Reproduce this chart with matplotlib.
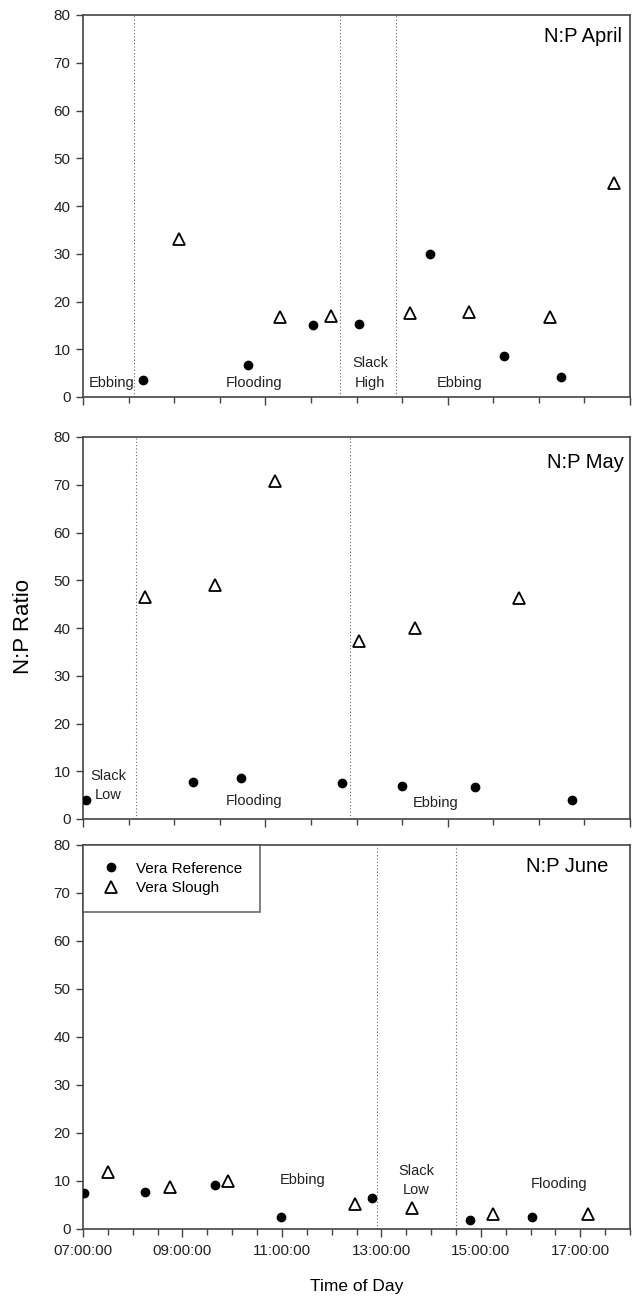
import numpy as np
import matplotlib.pyplot as plt
from matplotlib.ticker import MultipleLocator, FixedLocator, NullFormatter

plt.rcParams['font.family'] = ['Liberation Sans', 'DejaVu Sans']

# time of day in decimal hours, N:P ratios
apr_ref_t = [8.20, 10.31, 11.62, 12.56, 13.98, 15.47, 16.61]
apr_ref_np = [3.6, 6.7, 15.1, 15.3, 30.0, 8.5, 4.2]
apr_slough_t = [8.94, 10.97, 11.98, 13.57, 14.77, 16.39, 17.67]
apr_slough_np = [33.0, 16.8, 16.9, 17.6, 17.8, 16.7, 44.9]
apr_tides = [8.02, 12.17, 13.30]
apr_labels = [(7.57, 3.0, 'Ebbing'), (10.43, 3.0, 'Flooding'),
              (12.77, 5.0, 'Slack\nHigh'), (14.57, 3.0, 'Ebbing')]

may_ref_t = [7.07, 9.21, 10.18, 12.21, 13.42, 14.89, 16.84]
may_ref_np = [4.0, 7.7, 8.5, 7.5, 7.0, 6.6, 4.0]
may_slough_t = [8.24, 9.65, 10.86, 12.56, 13.68, 15.77]
may_slough_np = [46.4, 49.0, 70.7, 37.3, 39.9, 46.3]
may_tides = [8.07, 12.37]
may_labels = [(7.51, 7.0, 'Slack\nLow'), (10.43, 3.8, 'Flooding'),
              (14.09, 3.4, 'Ebbing')]

jun_ref_t = [7.03, 8.25, 9.65, 10.98, 12.81, 14.78, 16.02]
jun_ref_np = [7.4, 7.7, 9.2, 2.4, 6.5, 1.9, 2.4]
jun_slough_t = [7.50, 8.74, 9.92, 12.46, 13.62, 15.24, 17.15]
jun_slough_np = [11.8, 8.75, 9.9, 5.3, 4.4, 3.05, 3.1]
jun_tides = [12.92, 14.51]
jun_labels = [(11.42, 10.2, 'Ebbing'), (13.70, 10.1, 'Slack\nLow'),
              (16.58, 9.4, 'Flooding')]

hour_labels = ['07:00:00', '09:00:00', '11:00:00', '13:00:00', '15:00:00', '17:00:00']

W, H = 634, 1299
fig = plt.figure(figsize=(W / 100, H / 100), dpi=100)

def add_panel(top, bottom):
    return fig.add_axes([83 / W, 1 - bottom / H, (630 - 83) / W, (bottom - top) / H])

panels = [
    (add_panel(15, 397), apr_ref_t, apr_ref_np, apr_slough_t, apr_slough_np,
     apr_tides, apr_labels, 'N:P April', 622, 22),
    (add_panel(437, 819), may_ref_t, may_ref_np, may_slough_t, may_slough_np,
     may_tides, may_labels, 'N:P May', 624, 25),
    (add_panel(845, 1229), jun_ref_t, jun_ref_np, jun_slough_t, jun_slough_np,
     jun_tides, jun_labels, 'N:P June', 608, 21),
]

spine_col = '#444444'
for i, (ax, rt, rv, st, sv, tides, labels, title, tx, ty) in enumerate(panels):
    ax.plot(rt, rv, 'o', color='black', markersize=6, label='Vera Reference', zorder=3)
    ax.plot(st, sv, '^', markerfacecolor='white', markeredgecolor='black',
            markeredgewidth=1.3, markersize=8.5, label='Vera Slough', zorder=3)
    for t in tides:
        ax.axvline(t, color='#666666', linestyle=(0, (1, 2)), linewidth=0.8, zorder=1)
    for x, y, s in labels:
        ax.text(x, y, s, ha='center', va='center', fontsize=10.5, color='#222222',
                linespacing=1.5)
    ax.set_xlim(7, 18)
    ax.set_ylim(0, 80)
    ax.yaxis.set_major_locator(MultipleLocator(10))
    ax.tick_params(axis='y', labelsize=11, colors=spine_col, labelcolor='#222222',
                   length=5, width=1, pad=4)
    for sp in ax.spines.values():
        sp.set_color(spine_col)
        sp.set_linewidth(1.2)
    # axes-pixel placement for the month title
    bbox = ax.get_position()
    ax.text((tx / W - bbox.x0) / bbox.width, 1 - ty / (bbox.height * H), title,
            transform=ax.transAxes, ha='right', va='center', fontsize=14.5,
            color='black')
    if i < 2:
        ticks = np.linspace(7, 18, 13)
        ax.xaxis.set_major_locator(FixedLocator(ticks[::4]))
        ax.xaxis.set_minor_locator(FixedLocator(ticks))
        ax.xaxis.set_major_formatter(NullFormatter())
    else:
        ax.xaxis.set_major_locator(FixedLocator([7, 9, 11, 13, 15, 17]))
        ax.xaxis.set_minor_locator(MultipleLocator(0.5))
        ax.set_xticklabels(hour_labels)
    ax.tick_params(axis='x', which='major', length=6, width=1, colors=spine_col,
                   labelcolor='#222222', labelsize=11, pad=5)
    ax.tick_params(axis='x', which='minor', length=4, width=1, colors=spine_col)

leg = panels[2][0].legend(loc='upper left', bbox_to_anchor=(0, 1), borderaxespad=0,
                          fontsize=11, frameon=True, fancybox=False, handletextpad=0.9,
                          borderpad=1.1, labelspacing=0.35, handlelength=1.5)
leg.get_frame().set_edgecolor(spine_col)
leg.get_frame().set_linewidth(1.2)

fig.text(24 / W, 1 - 627 / H, 'N:P Ratio', rotation=90, ha='center', va='center',
         fontsize=16)
fig.text(357 / W, 1 - 1287 / H, 'Time of Day', ha='center', va='center', fontsize=12.5)

fig.savefig('out.png', dpi=100)
